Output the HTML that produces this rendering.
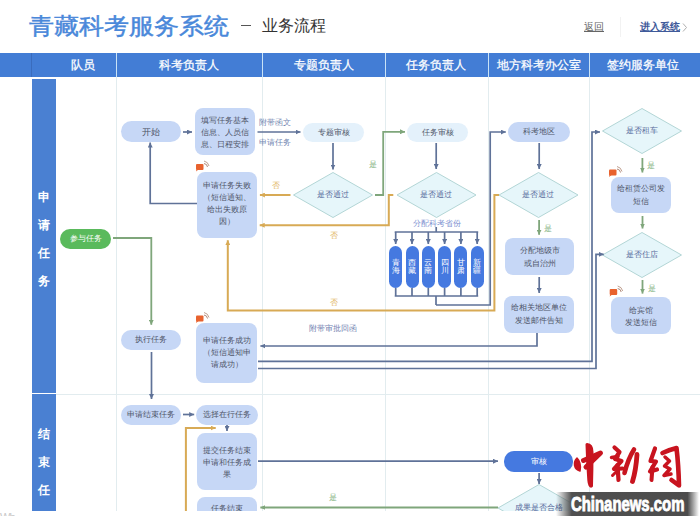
<!DOCTYPE html>
<html><head><meta charset="utf-8">
<style>
*{margin:0;padding:0;box-sizing:border-box}
html,body{width:700px;height:516px;overflow:hidden;background:#fff}
body{position:relative;font-family:"Liberation Sans",sans-serif;color:#555}
.a{position:absolute}
.t{position:absolute;display:flex;align-items:center;justify-content:center;text-align:center;white-space:nowrap;line-height:12px;font-size:8px;color:#4e5568}
.box{background:#c6d7f6;border-radius:8px}
.pill{background:#c6d7f6;border-radius:11px}
.pale{background:#e4f1fb;border-radius:11px}
.bp{background:#4579e0;color:#fff;border-radius:7px}
.hd{position:absolute;top:53px;height:24px;display:flex;align-items:center;justify-content:center;color:#fff;font-size:12px;font-weight:500;-webkit-text-stroke:0.25px #fff}
.lb{position:absolute;left:32px;width:24px;background:#4a80d2;color:#fff;font-size:12px;font-weight:500;-webkit-text-stroke:0.25px #fff}
.dm{color:#56689a}
.lab{position:absolute;margin-top:1.5px;font-size:8px;line-height:10px;white-space:nowrap}
</style></head><body>
<!-- title -->
<div class="a" style="left:29px;top:11px;font-size:25px;line-height:30px;font-weight:500;-webkit-text-stroke:0.5px #4a88da;color:#4a88da;white-space:nowrap;transform-origin:0 15.5px;transform:scaleY(0.92)">青藏科考服务系统</div>
<div class="a" style="left:241px;top:25px;width:10px;height:1px;background:#555"></div>
<div class="a" style="left:262px;top:16px;font-size:16px;line-height:20px;color:#333;white-space:nowrap">业务流程</div>
<div class="a" style="left:584px;top:20px;font-size:10px;line-height:13px;color:#666;text-decoration:underline;white-space:nowrap">返回</div>
<div class="a" style="left:620px;top:17px;width:1px;height:20px;background:#f2f2f2"></div>
<div class="a" style="left:640px;top:20px;font-size:10px;line-height:13px;font-weight:bold;color:#3f5a9a;text-decoration:underline;white-space:nowrap">进入系统</div>
<svg class="a" style="left:680px;top:20px" width="10" height="14"><polyline points="3,3.5 6.5,7.5 3,11.5" stroke="#b0b0b0" stroke-width="1" fill="none"/></svg>

<!-- header -->
<div class="a" style="left:0;top:53px;width:700px;height:24px;background:#437dd5"></div>
<div class="hd" style="left:40px;width:85px">队员</div>
<div class="hd" style="left:116px;width:146px">科考负责人</div>
<div class="hd" style="left:262px;width:123px">专题负责人</div>
<div class="hd" style="left:384px;width:103px">任务负责人</div>
<div class="hd" style="left:488px;width:101px">地方科考办公室</div>
<div class="hd" style="left:587px;width:111px">签约服务单位</div>

<!-- left bars -->
<div class="lb" style="top:79px;height:314px"></div>
<div class="lb" style="top:394px;height:117px"></div>

<svg class="a" style="left:0;top:0" width="700" height="516" viewBox="0 0 700 516">
 <defs>
  <marker id="md" markerUnits="userSpaceOnUse" viewBox="0 0 5 5" refX="5" refY="2.5" markerWidth="5" markerHeight="5" orient="auto"><path d="M0,0L5,2.5L0,5z" fill="#5f7298"/></marker>
  <marker id="mg" markerUnits="userSpaceOnUse" viewBox="0 0 5 5" refX="5" refY="2.5" markerWidth="5" markerHeight="5" orient="auto"><path d="M0,0L5,2.5L0,5z" fill="#7fa67b"/></marker>
  <marker id="mo" markerUnits="userSpaceOnUse" viewBox="0 0 5 5" refX="5" refY="2.5" markerWidth="5" markerHeight="5" orient="auto"><path d="M0,0L5,2.5L0,5z" fill="#d8aa55"/></marker>
 </defs>
 <!-- header dividers -->
 <line x1="31.5" y1="53" x2="31.5" y2="77" stroke="#3a6cbd" stroke-width="1"/>
 <g stroke="#c9e3f7" stroke-width="1">
  <line x1="116.5" y1="53" x2="116.5" y2="77"/><line x1="262.5" y1="53" x2="262.5" y2="77"/>
  <line x1="385.5" y1="53" x2="385.5" y2="77"/><line x1="488.5" y1="53" x2="488.5" y2="77"/><line x1="589.5" y1="53" x2="589.5" y2="77"/>
 </g>
 <!-- column lines -->
 <g stroke="#e2ecef" stroke-width="1">
  <line x1="116.5" y1="77" x2="116.5" y2="511"/><line x1="262.5" y1="77" x2="262.5" y2="511"/>
  <line x1="385.5" y1="77" x2="385.5" y2="511"/><line x1="488.5" y1="77" x2="488.5" y2="511"/><line x1="589.5" y1="77" x2="589.5" y2="511"/>
  <line x1="56" y1="394.5" x2="700" y2="394.5"/>
  <line x1="0" y1="511.5" x2="700" y2="511.5"/>
 </g>
 <!-- diamonds -->
 <g fill="#e6f6fa" stroke="#b3d6d6" stroke-width="1">
  <path d="M333,172.5L372.5,195L333,217.5L293.5,195Z"/>
  <path d="M436.5,172.5L476,195L436.5,217.5L397,195Z"/>
  <path d="M538.5,172.5L578,195L538.5,217.5L499,195Z"/>
  <path d="M642,108.5L681.5,131L642,153.5L602.5,131Z"/>
  <path d="M642,232.5L681.5,255L642,277.5L602.5,255Z"/>
  <path d="M539,484.5L580,508L539,531.5L498,508Z"/>
 </g>
 <!-- dark lines -->
 <g stroke="#5f7298" stroke-width="1.7" fill="none">
  <line x1="183" y1="132" x2="192" y2="132" marker-end="url(#md)"/>
  <polyline points="197,203.5 150.2,203.5 150.2,142.6" marker-end="url(#md)"/>
  <line x1="257.5" y1="132" x2="300.5" y2="132" marker-end="url(#md)"/>
  <line x1="333" y1="143" x2="333" y2="169.5" marker-end="url(#md)"/>
  <line x1="436.2" y1="143" x2="436.2" y2="169" marker-end="url(#md)"/>
  <line x1="539.2" y1="143" x2="539.2" y2="169" marker-end="url(#md)"/>
  <line x1="539.2" y1="277" x2="539.2" y2="293" marker-end="url(#md)"/>
  <polyline points="436,305 490.2,305 490.2,132 505.8,132" marker-end="url(#md)"/>
  <polyline points="537,333 537,346 260.4,346" marker-end="url(#md)"/>
  <polyline points="258,361.3 592,361.3 592,132 600,132" marker-end="url(#md)"/>
  <polyline points="258,368.5 596,368.5 596,254.3 603.7,254.3" marker-end="url(#md)"/>
  <line x1="151.5" y1="352" x2="151.5" y2="399" marker-end="url(#md)"/>
  <line x1="183" y1="414.5" x2="194.2" y2="414.5" marker-end="url(#md)"/>
  <line x1="227" y1="425" x2="227" y2="431" marker-end="url(#md)"/>
  <line x1="258" y1="461.2" x2="498" y2="461.2" marker-end="url(#md)"/>
  <line x1="539.1" y1="473" x2="539.1" y2="484" marker-end="url(#md)"/>
 </g>
 <!-- province brackets -->
 <g stroke="#5f7298" stroke-width="1.7" fill="none">
  <line x1="436.2" y1="227" x2="436.2" y2="232"/>
  <line x1="394.7" y1="232" x2="478.2" y2="232"/>
  <line x1="395.7" y1="232" x2="395.7" y2="244" marker-end="url(#md)"/>
  <line x1="412" y1="232" x2="412" y2="244" marker-end="url(#md)"/>
  <line x1="428.3" y1="232" x2="428.3" y2="244" marker-end="url(#md)"/>
  <line x1="444.6" y1="232" x2="444.6" y2="244" marker-end="url(#md)"/>
  <line x1="460.9" y1="232" x2="460.9" y2="244" marker-end="url(#md)"/>
  <line x1="477.2" y1="232" x2="477.2" y2="244" marker-end="url(#md)"/>
  <path d="M395.7,288V296M412,288V296M428.3,288V296M444.6,288V296M460.9,288V296M477.2,288V296M394.7,296H478.2M436,296V305"/>
 </g>
 <!-- green -->
 <g stroke="#7fa67b" stroke-width="1.8" fill="none">
  <polyline points="113,238 151.3,238 151.3,324.8" marker-end="url(#mg)"/>
  <polyline points="375,195 383.2,195 383.2,131.8 405,131.8" marker-end="url(#mg)"/>
  <line x1="539.1" y1="220" x2="539.1" y2="234.7" marker-end="url(#mg)"/>
  <line x1="642.4" y1="158" x2="642.4" y2="172.5" marker-end="url(#mg)"/>
  <line x1="642.5" y1="216" x2="642.5" y2="228.5" marker-end="url(#mg)"/>
  <line x1="642.5" y1="280" x2="642.5" y2="293.6" marker-end="url(#mg)"/>
  <line x1="498" y1="507.5" x2="260.4" y2="507.5" marker-end="url(#mg)"/>
 </g>
 <!-- orange -->
 <g stroke="#d8aa55" stroke-width="2" fill="none">
  <line x1="290.5" y1="195" x2="259.9" y2="195" marker-end="url(#mo)"/>
  <polyline points="393.3,195 388.8,195 388.8,225.2 259.7,225.2" marker-end="url(#mo)"/>
  <polyline points="499,195 494.4,195 494.4,310.6 227.8,310.6 227.8,240.2" marker-end="url(#mo)"/>
  <polyline points="185.9,516 185.9,428 215.7,428" marker-end="url(#mo)"/>
 </g>
</svg>


<!-- icons -->
<svg class="a" style="left:0;top:0" width="700" height="516" viewBox="0 0 700 516">
 <defs>
  <g id="ic">
   <rect x="0" y="3" width="7.5" height="6" rx="1" fill="#e8622e"/>
   <path d="M0.5,8.5 L0,10.5 L2.5,8.5Z" fill="#e8622e"/>
   <path d="M8,2.5 A4,4 0 0 1 11.5,6" stroke="#b08878" stroke-width="1" fill="none"/>
   <path d="M8,0 A6.5,6.5 0 0 1 13,5" stroke="#c0a090" stroke-width="1" fill="none"/>
  </g>
 </defs>
 <use href="#ic" x="196" y="161"/>
 <use href="#ic" x="196" y="312.5"/>
 <use href="#ic" x="609" y="166.5"/>
 <use href="#ic" x="609.7" y="286"/>
</svg>
<!-- left bar labels -->
<div class="t" style="left:32px;top:189px;width:24px;height:16px;font-size:12px;color:#fff;font-weight:bold">申</div>
<div class="t" style="left:32px;top:217px;width:24px;height:16px;font-size:12px;color:#fff;font-weight:bold">请</div>
<div class="t" style="left:32px;top:245px;width:24px;height:16px;font-size:12px;color:#fff;font-weight:bold">任</div>
<div class="t" style="left:32px;top:273px;width:24px;height:16px;font-size:12px;color:#fff;font-weight:bold">务</div>
<div class="t" style="left:32px;top:426px;width:24px;height:16px;font-size:12px;color:#fff;font-weight:bold">结</div>
<div class="t" style="left:32px;top:454px;width:24px;height:16px;font-size:12px;color:#fff;font-weight:bold">束</div>
<div class="t" style="left:32px;top:482px;width:24px;height:16px;font-size:12px;color:#fff;font-weight:bold">任</div>

<!-- nodes -->
<div class="t" style="left:60px;top:229px;width:51px;height:20px;background:#5aba5c;border-radius:10px;color:#fff">参与任务</div>
<div class="t pill" style="left:121px;top:121px;width:60px;height:21px;font-size:8.5px">开始</div>
<div class="t box" style="left:195px;top:108px;width:60px;height:47px;line-height:11.7px;padding-top:3px">填写任务基本<br>信息、人员信<br>息、日程安排</div>
<div class="t box" style="left:197px;top:172px;width:60px;height:66px;line-height:12.2px;padding-bottom:2px">申请任务失败<br>（短信通知、<br>给出失败原<br>因）</div>
<div class="t pale" style="left:303px;top:123px;width:61px;height:19px">专题审核</div>
<div class="t dm" style="left:293px;top:189px;width:80px;height:12px">是否通过</div>
<div class="t pale" style="left:407px;top:123px;width:61px;height:19px">任务审核</div>
<div class="t dm" style="left:396px;top:189px;width:80px;height:12px">是否通过</div>
<div class="t pill" style="left:508px;top:122px;width:62px;height:20px">科考地区</div>
<div class="t dm" style="left:498px;top:189px;width:80px;height:12px">是否通过</div>
<div class="t" style="left:401px;top:218px;width:72px;height:12px;color:#7b8fd0">分配科考省份</div>

<div class="t bp" style="left:389px;top:246px;width:13px;height:42px;line-height:8.5px;font-size:8px">青<br>海</div>
<div class="t bp" style="left:405.5px;top:246px;width:13px;height:42px;line-height:8.5px;font-size:8px">西<br>藏</div>
<div class="t bp" style="left:421.8px;top:246px;width:13px;height:42px;line-height:8.5px;font-size:8px">云<br>南</div>
<div class="t bp" style="left:438.1px;top:246px;width:13px;height:42px;line-height:8.5px;font-size:8px">四<br>川</div>
<div class="t bp" style="left:454.4px;top:246px;width:13px;height:42px;line-height:8.5px;font-size:8px">甘<br>肃</div>
<div class="t bp" style="left:470.7px;top:246px;width:13px;height:42px;line-height:8.5px;font-size:8px">新<br>疆</div>

<div class="t box" style="left:505px;top:238px;width:69px;height:37px;line-height:12.6px;padding-top:3px">分配地级市<br>或自治州</div>
<div class="t box" style="left:504px;top:296px;width:70px;height:37px;line-height:13px;padding-bottom:2px">给相关地区单位<br>发送邮件告知</div>

<div class="t dm" style="left:602px;top:125px;width:80px;height:12px">是否租车</div>
<div class="t box" style="left:611px;top:177px;width:60px;height:36px;line-height:13px">给租赁公司发<br>短信</div>
<div class="t dm" style="left:602px;top:249px;width:80px;height:12px">是否住店</div>
<div class="t box" style="left:611px;top:297px;width:60px;height:37px;line-height:12.5px;padding-top:3px">给宾馆<br>发送短信</div>

<div class="t pill" style="left:121px;top:330px;width:60px;height:20px">执行任务</div>
<div class="t box" style="left:196px;top:323px;width:61px;height:60px;line-height:12px">申请任务成功<br>（短信通知申<br>请成功）</div>

<div class="t pill" style="left:121px;top:405px;width:60px;height:20px">申请结束任务</div>
<div class="t pill" style="left:196px;top:405px;width:62px;height:20px">选择在行任务</div>
<div class="t box" style="left:197px;top:433px;width:60px;height:57px;line-height:12px;padding-top:2px">提交任务结束<br>申请和任务成<br>果</div>
<div class="t box" style="left:197px;top:497px;width:60px;height:30px;align-items:flex-start;padding-top:5.5px">任务结束</div>
<div class="t bp" style="left:504px;top:451px;width:69px;height:21px;border-radius:10px">审核</div>
<div class="t dm" style="left:498px;top:502px;width:82px;height:12px">成果是否合格</div>

<!-- labels -->
<div class="lab" style="left:259px;top:116px;color:#7085b0">附带函文</div>
<div class="lab" style="left:259px;top:136px;color:#7085b0">申请任务</div>
<div class="lab" style="left:272px;top:179px;color:#e2b460">否</div>
<div class="lab" style="left:330px;top:229px;color:#e2b460">否</div>
<div class="lab" style="left:330px;top:296px;color:#e2b460">否</div>
<div class="lab" style="left:369px;top:158px;color:#86b383">是</div>
<div class="lab" style="left:544px;top:222px;color:#86b383">是</div>
<div class="lab" style="left:647px;top:159px;color:#86b383">是</div>
<div class="lab" style="left:647.5px;top:282px;color:#86b383">是</div>
<div class="lab" style="left:329px;top:491.5px;color:#86b383">是</div>
<div class="lab" style="left:309px;top:322px;color:#7080b0">附带审批回函</div>


<!-- bottom clip -->
<div class="a" style="left:0;top:511px;width:700px;height:5px;background:#fff"></div>
<div class="a" style="left:0;top:511px;width:30px;height:5px;overflow:hidden"><div style="font-size:11px;line-height:11px;color:#c8c8c8;margin-top:1px;letter-spacing:-1px">Wb</div></div>
<!-- watermark -->
<svg class="a" style="left:0;top:0" width="700" height="516" viewBox="0 0 700 516">
 <defs>
  <linearGradient id="bn" x1="0" y1="0" x2="1" y2="0">
   <stop offset="0" stop-color="#505050" stop-opacity="0"/>
   <stop offset="0.11" stop-color="#505050" stop-opacity="1"/>
   <stop offset="0.92" stop-color="#4c4c4c" stop-opacity="1"/>
   <stop offset="1" stop-color="#4c4c4c" stop-opacity="0"/>
  </linearGradient>
 </defs>
 <rect x="556" y="492" width="143" height="24" fill="url(#bn)"/>
 <g stroke="#c8141f" fill="#c8141f" stroke-linecap="round" stroke-linejoin="round">
  <path d="M577,458 C573,462 573.5,469 580,471 C581,466 580,461 577,458Z" stroke-width="1.5"/>
  <path d="M583.5,460.5 L600.5,453 L586,467" stroke-width="5" fill="none"/>
  <path d="M587,444.5 Q592,445 592,452 Q592,470 591.5,486 Q589.5,487 588.8,480 Q587.5,462 587,444.5Z" stroke-width="3"/>
  <path d="M614.5,447.5 L619.5,452 L615,459 L621.5,461 L614,469 L622.5,468.5" stroke-width="4.2" fill="none"/>
  <path d="M611.5,457.5 L618,456.5" stroke-width="3.5" fill="none"/>
  <path d="M617.5,465 L618.5,480" stroke-width="4.2" fill="none"/>
  <path d="M612.5,475.5 L616,472" stroke-width="3" fill="none"/>
  <path d="M634,449.5 Q628,459 624.5,473" stroke-width="4.6" fill="none"/>
  <path d="M637,454.5 Q636,470 632.5,481.5" stroke-width="4.8" fill="none"/>
  <path d="M655,448.5 L650.5,461 L656,461.5 L650,471.5 L657,469.5" stroke-width="4.2" fill="none"/>
  <path d="M652.5,467 L651.5,480" stroke-width="4" fill="none"/>
  <path d="M662.5,453 Q670,449.5 676.5,448 Q678.5,465 679,485.5 L671.5,480" stroke-width="4.6" fill="none"/>
  <path d="M665,457 L669.5,461 L664.5,466 L670,469 L664,475.5 L671,474" stroke-width="3.5" fill="none"/>
 </g>
</svg>
<div class="a" style="left:571px;top:493px;font-size:20px;line-height:22px;font-weight:bold;color:#fff;-webkit-text-stroke:0.9px #fff;white-space:nowrap;transform-origin:0 0;transform:scaleX(0.745)">Chinanews.com</div>
</body></html>
